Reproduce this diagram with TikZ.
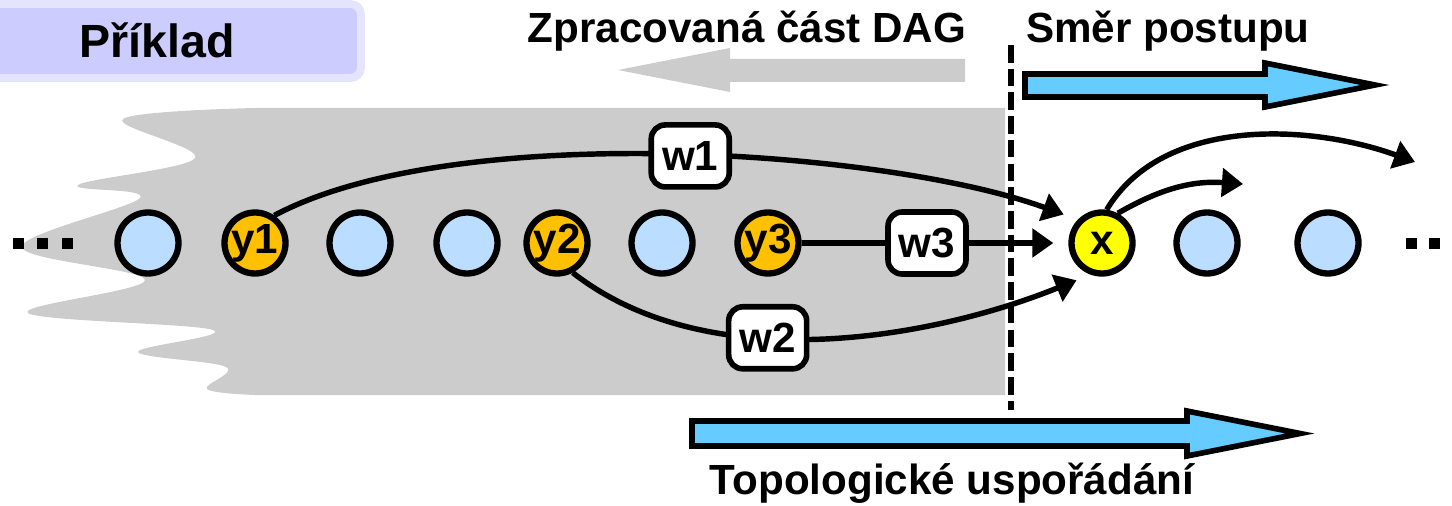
\documentclass[tikz,border=0pt]{standalone}
\usepackage{fontspec}
\setmainfont{Liberation Sans}
\usepackage{tikz}
\usetikzlibrary{arrows.meta,shapes.geometric,shapes.misc}

\definecolor{nodeblue}{HTML}{BBDDFF}
\definecolor{predorange}{HTML}{FFC000}
\definecolor{curyellow}{HTML}{FFFF00}
\definecolor{flowblue}{HTML}{66CCFF}
\definecolor{donegray}{HTML}{CCCCCC}
\definecolor{tagfill}{HTML}{CCCCFF}
\definecolor{tagedge}{HTML}{E4E4FF}

\begin{document}
\begin{tikzpicture}[x=0.02cm, y=-0.02cm,
  vertex/.style={circle, draw, line width=3.6pt, minimum size=1.22cm, inner sep=0pt,
    fill=nodeblue, font=\fontsize{24}{24}\selectfont\bfseries},
  pred/.style={vertex, fill=predorange},
  weight/.style={rectangle, rounded corners=8pt, draw, fill=white, line width=3.2pt,
    minimum width=1.56cm, minimum height=1.24cm, inner sep=0pt,
    font=\fontsize{24}{24}\selectfont\bfseries},
  edge/.style={line width=3.1pt, -{Triangle[length=12pt,width=16pt]}, shorten >=0.3cm},
  heading/.style={anchor=base, font=\fontsize{24}{28}\selectfont\bfseries}]
\useasboundingbox (0,0) rectangle (1452,506);

% processed part of the DAG
\fill[donegray] (1005,108) -- (255,108) -- plot[smooth, tension=0.6] coordinates {(255,108) (123,119) (195,158) (78,185) (140,198) (22,247) (145,280) (28,313) (213,330) (138,352) (226,367) (207,389) (255,395)} -- (1005,395) -- cycle;

% label box in the corner
\draw[line width=4.5pt, draw=tagedge, fill=tagfill, rounded corners=6pt] (-30,4) rectangle (361,78);
\node[font=\fontsize{26.5}{30}\selectfont\bfseries] (title) at (157,40) {Příklad};

% headings and big arrows
\node[heading] (donetext) at (747,43) {Zpracovaná část DAG};
\node[heading] (dirtext) at (1168,43) {Směr postupu};
\node[heading] (topotext) at (952,494) {Topologické uspořádání};
\fill[donegray] (965,59) -- (730,59) -- (730,48) -- (618,70) -- (730,92) -- (730,82) -- (965,82) -- cycle;
\draw[line width=3.2pt, fill=flowblue] (1025,74) -- (1265,74) -- (1265,63) -- (1375,85) -- (1265,107) -- (1265,97) -- (1025,97) -- cycle;
\draw[line width=3.2pt, fill=flowblue] (692,421) -- (1187,421) -- (1187,411) -- (1300,433.5) -- (1187,456) -- (1187,446) -- (692,446) -- cycle;

% border between done and open part
\draw[line width=3.1pt, dash pattern=on 10pt off 3.5pt] (1011,45) -- (1011,410);

% vertices in topological order
\node[vertex] (a1) at (148,243) {};
\node[pred] (y1) at (255,243) {y1};
\node[vertex] (a2) at (360,243) {};
\node[vertex] (a3) at (467,243) {};
\node[pred] (y2) at (557,243) {y2};
\node[vertex] (a4) at (662,243) {};
\node[pred] (y3) at (768,243) {y3};
\node[vertex, fill=curyellow] (x) at (1102,243) {x};
\node[vertex] (b1) at (1207,243) {};
\node[vertex] (b2) at (1328,243) {};

\foreach \d in {18,42,67,1411,1434}
  \fill (\d-5.5,238) rectangle (\d+5.5,249);

% weighted edges into x
\draw[edge] (y1.55) to[out=28, in=160, looseness=0.65] node[weight, pos=0.52] (w1) {w1} (x.136);
\draw[edge] (y2.-62) to[out=-38, in=-158, looseness=0.85] node[weight, pos=0.4] (w2) {w2} (x.-110);
\draw[edge] (y3) -- node[weight, pos=0.47] (w3) {w3} (x);

% edges leaving x
\coordinate (far) at (1415,162);
\coordinate (near) at (1243,184);
\draw[edge, shorten >=0pt] (x.82) to[out=59, in=160, looseness=0.9] (far);
\draw[edge, shorten >=0pt] (x.62) to[out=30, in=176] (near);
\end{tikzpicture}
\end{document}
